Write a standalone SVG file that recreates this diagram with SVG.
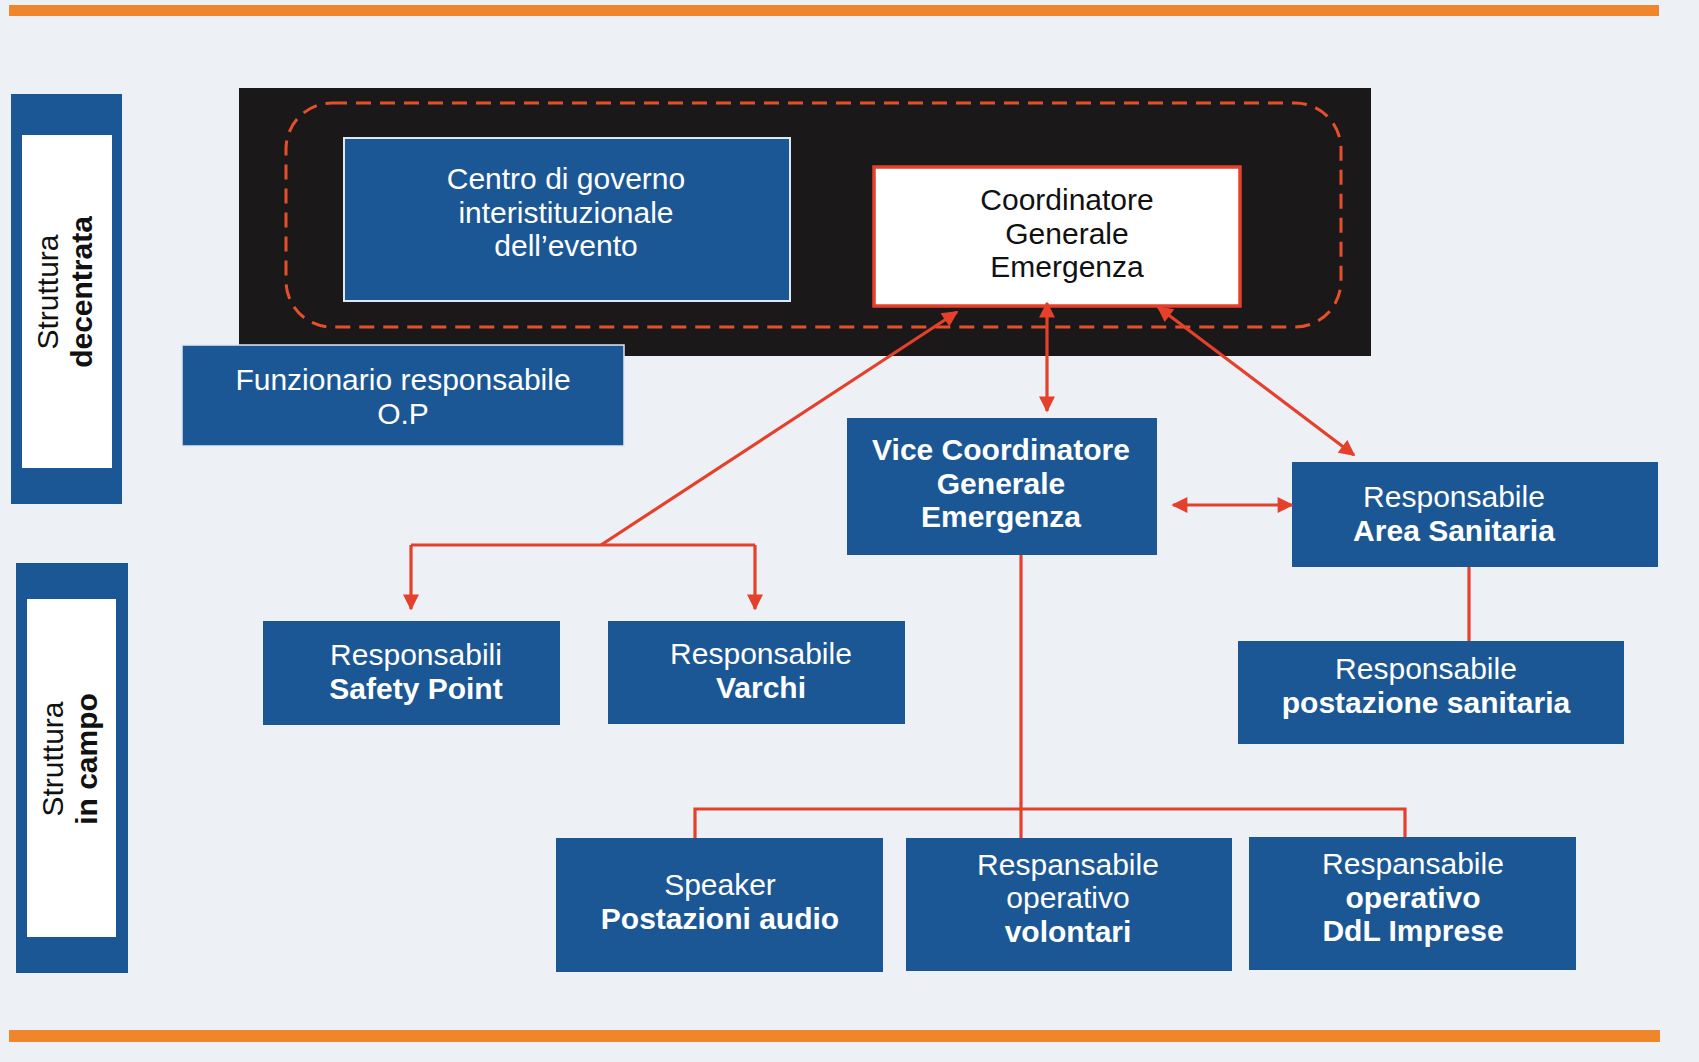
<svg xmlns="http://www.w3.org/2000/svg" width="1699" height="1062" viewBox="0 0 1699 1062">
<defs>
<style>
.bg{fill:#edf0f5}
.bar{fill:#f0862c}
.box{fill:#1c5795}
.side{fill:#1c5795}
.sideIn{fill:#ffffff}
.t{font-family:"Liberation Sans",Arial,sans-serif;font-size:30px;fill:#ffffff;text-anchor:middle}
.b{font-weight:bold}
.st{font-family:"Liberation Sans",Arial,sans-serif;font-size:30px;fill:#111111;text-anchor:middle}
.c{fill:none;stroke:#e5402b;stroke-width:3.2}
</style>
<marker id="ah" viewBox="0 0 10 10" refX="9" refY="5" markerWidth="5.5" markerHeight="5" orient="auto-start-reverse" markerUnits="strokeWidth">
<path d="M0,0 L10,5 L0,10 z" fill="#e5402b"/>
</marker>
</defs>
<rect class="bg" x="0" y="0" width="1699" height="1062"/>
<rect class="bar" x="9" y="5" width="1650" height="11"/>
<rect class="bar" x="9" y="1030" width="1651" height="12"/>

<g id="side-decentrata">
<rect class="side" x="11" y="94" width="111" height="410"/>
<rect class="sideIn" x="22" y="135" width="90" height="333"/>
<text class="st" transform="translate(58,292) rotate(-90)">Struttura</text>
<text class="st b" transform="translate(92,292) rotate(-90)">decentrata</text>
</g>

<g id="side-campo">
<rect class="side" x="16" y="563" width="112" height="410"/>
<rect class="sideIn" x="27" y="599" width="89" height="338"/>
<text class="st" transform="translate(63,759) rotate(-90)">Struttura</text>
<text class="st b" transform="translate(97,759) rotate(-90)">in campo</text>
</g>

<g id="decentrata-frame">
<rect x="239" y="88" width="1132" height="268" fill="#1a1818"/>
<rect x="286" y="103" width="1055" height="224" rx="46" ry="46" fill="none" stroke="#e5502c" stroke-width="3" stroke-dasharray="15 9"/>
</g>

<g id="centro">
<rect class="box" x="344" y="138" width="446" height="163" stroke="#dfe8f2" stroke-width="2"/>
<text class="t" x="566" y="189">Centro di governo</text>
<text class="t" x="566" y="222.5">interistituzionale</text>
<text class="t" x="566" y="256">dell’evento</text>
</g>

<g id="coordinatore">
<rect x="874" y="167" width="366" height="139" fill="#ffffff" stroke="#e5402b" stroke-width="3.5"/>
<text class="t" x="1067" y="210" style="fill:#111">Coordinatore</text>
<text class="t" x="1067" y="243.5" style="fill:#111">Generale</text>
<text class="t" x="1067" y="277" style="fill:#111">Emergenza</text>
</g>

<g id="funzionario">
<rect class="box" x="182" y="345" width="442" height="101" stroke="#dfe8f2" stroke-width="1.5"/>
<text class="t" x="403" y="390">Funzionario responsabile</text>
<text class="t" x="403" y="423.5">O.P</text>
</g>

<g id="vice">
<rect class="box" x="847" y="418" width="310" height="137"/>
<text class="t b" x="1001" y="460">Vice Coordinatore</text>
<text class="t b" x="1001" y="493.5">Generale</text>
<text class="t b" x="1001" y="527">Emergenza</text>
</g>

<g id="area-sanitaria">
<rect class="box" x="1292" y="462" width="366" height="105"/>
<text class="t" x="1454" y="507">Responsabile</text>
<text class="t b" x="1454" y="540.5">Area Sanitaria</text>
</g>

<g id="postazione-sanitaria">
<rect class="box" x="1238" y="641" width="386" height="103"/>
<text class="t" x="1426" y="679">Responsabile</text>
<text class="t b" x="1426" y="712.5">postazione sanitaria</text>
</g>

<g id="safety-point">
<rect class="box" x="263" y="621" width="297" height="104"/>
<text class="t" x="416" y="665">Responsabili</text>
<text class="t b" x="416" y="698.5">Safety Point</text>
</g>

<g id="varchi">
<rect class="box" x="608" y="621" width="297" height="103"/>
<text class="t" x="761" y="664">Responsabile</text>
<text class="t b" x="761" y="697.5">Varchi</text>
</g>

<g id="speaker">
<rect class="box" x="556" y="838" width="327" height="134"/>
<text class="t" x="720" y="895">Speaker</text>
<text class="t b" x="720" y="928.5">Postazioni audio</text>
</g>

<g id="volontari">
<rect class="box" x="906" y="838" width="326" height="133"/>
<text class="t" x="1068" y="874.5">Respansabile</text>
<text class="t" x="1068" y="908">operativo</text>
<text class="t b" x="1068" y="941.5">volontari</text>
</g>

<g id="ddl-imprese">
<rect class="box" x="1249" y="837" width="327" height="133"/>
<text class="t" x="1413" y="874">Respansabile</text>
<text class="t b" x="1413" y="907.5">operativo</text>
<text class="t b" x="1413" y="941">DdL Imprese</text>
</g>

<g id="connectors">
<path class="c" d="M601,545 L957,312" marker-end="url(#ah)"/>
<path class="c" d="M411,545 L755,545"/>
<path class="c" d="M411,545 L411,609" marker-end="url(#ah)"/>
<path class="c" d="M755,545 L755,609" marker-end="url(#ah)"/>
<path class="c" d="M1047,303 L1047,411" marker-start="url(#ah)" marker-end="url(#ah)"/>
<path class="c" d="M1158,307 L1354,455" marker-start="url(#ah)" marker-end="url(#ah)"/>
<path class="c" d="M1173,505 L1292,505" marker-start="url(#ah)" marker-end="url(#ah)"/>
<path class="c" d="M1469,567 L1469,641"/>
<path class="c" d="M1021,555 L1021,838"/>
<path class="c" d="M695,838 L695,809 L1405,809 L1405,837"/>
</g>
</svg>
